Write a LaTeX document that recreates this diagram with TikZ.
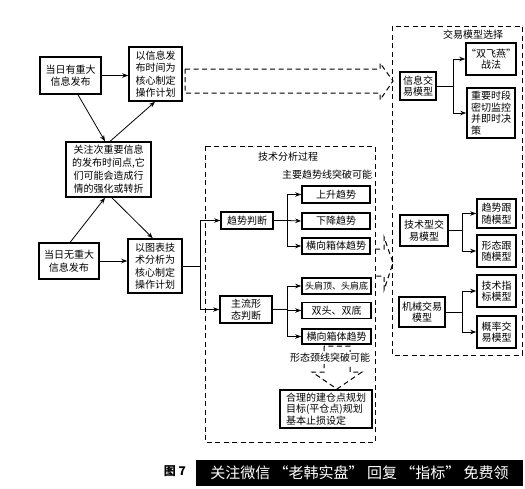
\documentclass[tikz,border=0pt]{standalone}
\usepackage{fontspec}
\newfontfamily\cjk{Noto Sans CJK SC}
\usetikzlibrary{arrows.meta,calc}
\begin{document}
\begin{tikzpicture}[x=1pt,y=-1pt,
  bx/.style={draw,line width=1.6pt,font=\cjk\fontsize{10}{12.5}\selectfont,align=center,inner sep=0pt},
  tight/.style={font=\cjk\fontsize{10}{11.5}\selectfont},
  ln/.style={line width=0.8pt},
  arr/.style={line width=0.8pt,-{Stealth[length=6pt,width=4.5pt]}},
  dsh/.style={line width=1pt,dash pattern=on 5pt off 3.5pt},
  lbl/.style={font=\cjk\fontsize{10}{12}\selectfont,inner sep=1pt}]
\useasboundingbox[fill=white] (0,0) rectangle (525,488);

% dashed regions
\draw[dsh] (205,146) rectangle (375,442);
\draw[dsh] (392,26) rectangle (522,355);
\node[lbl] (tTA) at (288,157) {技术分析过程};
\node[lbl] (tZY) at (327,175) {主要趋势线突破可能};
\node[lbl] (tMS) at (473,35) {交易模型选择};

% left boxes
\node[bx,minimum width=61,minimum height=37] (A) at (70.5,75.5) {当日有重大\\信息发布};
\node[bx,minimum width=53,minimum height=54] (P1) at (155.5,74) {以信息发\\布时间为\\核心制定\\操作计划};
\node[bx,minimum width=85,minimum height=55,font=\cjk\fontsize{10}{13}\selectfont] (G) at (108.5,169.5) {关注次重要信息\\的发布时间点,它\\们可能会造成行\\情的强化或转折};
\node[bx,minimum width=60,minimum height=36] (B) at (69,261) {当日无重大\\信息发布};
\node[bx,minimum width=54,minimum height=54] (P2) at (155,266) {以图表技\\术分析为\\核心制定\\操作计划};

% technical analysis boxes
\node[bx,minimum width=52,minimum height=17] (QS) at (247,220.5) {趋势判断};
\node[bx,minimum width=68,minimum height=17] (U1) at (336,194.5) {上升趋势};
\node[bx,minimum width=68,minimum height=16] (U2) at (336,221) {下降趋势};
\node[bx,minimum width=68,minimum height=16] (U3) at (336,246) {横向箱体趋势};
\node[bx,minimum width=52,minimum height=27,tight] (XT) at (246,309.5) {主流形\\态判断};
\node[bx,minimum width=69,minimum height=16,font=\cjk\fontsize{9}{11}\selectfont] (V1) at (336.5,286) {头肩顶、头肩底};
\node[bx,minimum width=69,minimum height=16] (V2) at (336.5,310.5) {双头、双底};
\node[bx,minimum width=69,minimum height=15] (V3) at (336.5,336.5) {横向箱体趋势};
\node[bx,minimum width=92,minimum height=38,tight,align=left] (R) at (326,409) {合理的建仓点规划\\目标(平仓点)规划\\基本止损设定};

% model selection boxes
\node[bx,minimum width=36,minimum height=28,tight] (M1) at (418,86) {信息交\\易模型};
\node[bx,minimum width=48,minimum height=32,tight] (N1) at (491,59) {“双飞燕”\\战法};
\node[bx,minimum width=48,minimum height=50,tight,align=left] (N2) at (491,113) {重要时段\\密切监控\\并即时决\\策};
\node[bx,minimum width=48,minimum height=31,tight] (M2) at (424,230.5) {技术型交\\易模型};
\node[bx,minimum width=39,minimum height=29,tight] (N3) at (496.5,213.5) {趋势跟\\随模型};
\node[bx,minimum width=39,minimum height=32,tight] (N4) at (496.5,251) {形态跟\\随模型};
\node[bx,minimum width=46,minimum height=30,tight] (M3) at (422,312) {机械交易\\模型};
\node[bx,minimum width=39,minimum height=32,tight] (N5) at (496.5,291) {技术指\\标模型};
\node[bx,minimum width=39,minimum height=32,tight] (N6) at (496.5,332) {概率交\\易模型};

% left arrows
\draw[arr] (A.east) -- (P1.west |- A.east);
\draw[arr] (B.east) -- (P2.west |- B.east);
\draw[arr] ($(A.south west)!0.62!(A.south east)$) -- ($(G.north west)!0.46!(G.north east)$);
\draw[arr] ($(G.north west)!0.52!(G.north east)$) -- ($(P1.south west)!0.49!(P1.south east)$);
\draw[arr] ($(B.north west)!0.52!(B.north east)$) -- ($(G.south west)!0.46!(G.south east)$);
\draw[arr] ($(G.south west)!0.54!(G.south east)$) -- ($(P2.north west)!0.46!(P2.north east)$);

% P2 split
\coordinate (s0) at (200,266);
\draw[ln] (P2.east) -- (s0);
\draw[arr] (s0) |- (QS.west);
\draw[arr] (s0) |- (XT.west);

% trend branches
\coordinate (s1) at (287,220.5);
\draw[ln] (QS.east) -- (s1);
\draw[arr] (s1) |- (U1.west);
\draw[arr] (s1) -- (U2.west);
\draw[arr] (s1) |- (U3.west);

\coordinate (s2) at (287,309.5);
\draw[ln] (XT.east) -- (s2);
\draw[arr] (s2) |- (V1.west);
\draw[arr] (s2) |- (V2.west);
\draw[arr] (s2) |- (V3.west);

% model branches
\coordinate (m1) at (453,86);
\draw[ln] (M1.east) -- (m1);
\draw[arr] (m1) |- (N1.west);
\draw[arr] (m1) |- (N2.west);
\coordinate (m2) at (462,230.5);
\draw[ln] (M2.east) -- (m2);
\draw[arr] (m2) |- (N3.west);
\draw[arr] (m2) |- (N4.west);
\coordinate (m3) at (462,312);
\draw[ln] (M3.east) -- (m3);
\draw[arr] (m3) |- (N5.west);
\draw[arr] (m3) |- (N6.west);

% dashed block arrows
\draw[dsh] (185,69) -- (380,69) -- (380,63) -- (393,81) -- (380,100) -- (380,93) -- (185,93) -- cycle;
\draw[dsh] (375,249) -- (384,249) -- (384,237) -- (393,263) -- (384,290) -- (384,276) -- (375,276);
\draw[dsh] (324,346) -- (324,372) -- (312,372) -- (337,389) -- (362,372) -- (350,372) -- (350,346) -- cycle;
\node[lbl,fill=white] (tXT) at (330,358) {形态颈线突破可能};

% caption
\node[font=\cjk\bfseries\fontsize{12}{12}\selectfont,inner sep=0pt] (cap) at (175,471) {图 7};
\node[fill=black,text=white,minimum width=327,minimum height=26,inner sep=0pt,font=\cjk\fontsize{15}{15}\selectfont] (ban) at (359.5,473) {关注微信 “老韩实盘” 回复 “指标” 免费领};
\end{tikzpicture}
\end{document}
